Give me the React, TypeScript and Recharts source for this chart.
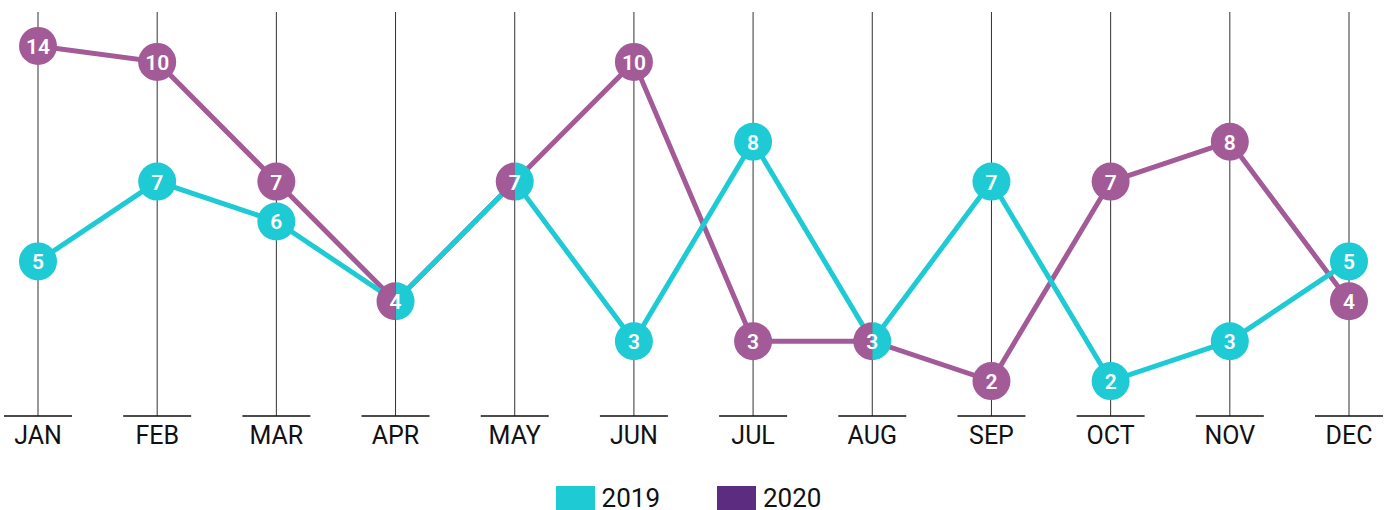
import { LineChart, Line, XAxis, YAxis, CartesianGrid } from 'recharts';

const months = ['JAN', 'FEB', 'MAR', 'APR', 'MAY', 'JUN', 'JUL', 'AUG', 'SEP', 'OCT', 'NOV', 'DEC'];
const values2019 = [5, 7, 6, 4, 7, 3, 8, 3, 7, 2, 3, 5];
const values2020 = [14, 10, 7, 4, 7, 10, 3, 3, 2, 7, 8, 4];
// the source chart squeezes anything above its axis top just over the 10 mark
const axisCap = 10.4;

const CYAN = '#1ecad4';
const PURPLE = '#a35b98';
const PURPLE_LEGEND = '#5b2c7f';

const data = months.map((m, i) => ({
  month: m,
  y2019: values2019[i],
  y2020: Math.min(values2020[i], axisCap),
  l2019: values2019[i],
  l2020: values2020[i],
}));

const R = 19;

const makeDot = (series: '2019' | '2020') => (props: any) => {
  const { cx, cy, payload, index } = props;
  if (cx == null || cy == null) return <g key={`d${series}-${index}`} />;
  const shared = payload.l2019 === payload.l2020;
  const color = series === '2019' ? CYAN : PURPLE;
  const label = series === '2019' ? payload.l2019 : payload.l2020;
  let shape;
  if (shared) {
    // split marker: purple on the left, cyan on the right
    shape =
      series === '2020' ? (
        <path d={`M${cx},${cy - R} A${R},${R} 0 0 0 ${cx},${cy + R} Z`} fill={PURPLE} />
      ) : (
        <path d={`M${cx},${cy - R} A${R},${R} 0 0 1 ${cx},${cy + R} Z`} fill={CYAN} />
      );
  } else {
    shape = <circle cx={cx} cy={cy} r={R} fill={color} />;
  }
  const showText = !shared || series === '2020';
  return (
    <g key={`d${series}-${index}`}>
      {shape}
      {showText && (
        <text
          x={cx}
          y={cy + 1}
          textAnchor="middle"
          dominantBaseline="central"
          fill="#fff"
          fontSize={21}
          fontWeight={600}
          fontFamily="Roboto, 'Open Sans', sans-serif"
        >
          {label}
        </text>
      )}
    </g>
  );
};

const MonthTick = (props: any) => {
  const { x, y, payload } = props;
  return (
    <g>
      <line x1={x - 34} x2={x + 34} y1={y} y2={y} stroke="#111" strokeWidth={1.5} />
      <text
        x={x}
        y={y + 28}
        textAnchor="middle"
        fill="#111"
        fontSize={25}
        fontFamily="Roboto, 'Open Sans', sans-serif"
      >
        {payload.value}
      </text>
    </g>
  );
};

export default function App() {
  return (
    <div style={{ position: 'absolute', left: 0, top: 0, width: 1391, height: 510 }}>
      <LineChart width={1391} height={510} data={data} margin={{ top: 12, right: 0, bottom: 0, left: 0 }}>
        <CartesianGrid horizontal={false} vertical syncWithTicks stroke="#333" strokeWidth={1} />
        <XAxis
          dataKey="month"
          scale="point"
          padding={{ left: 38, right: 42 }}
          height={94}
          axisLine={false}
          tickLine={false}
          tickSize={0}
          tickMargin={0}
          interval={0}
          tick={<MonthTick />}
        />
        <YAxis hide domain={[1.125, 11.25]} type="number" allowDataOverflow />
        <Line dataKey="y2020" stroke={PURPLE} strokeWidth={5} dot={false} isAnimationActive={false} />
        <Line dataKey="y2019" stroke={CYAN} strokeWidth={5} dot={false} isAnimationActive={false} />
        <Line dataKey="y2019" stroke="none" dot={makeDot('2019')} activeDot={false} isAnimationActive={false} legendType="none" />
        <Line dataKey="y2020" stroke="none" dot={makeDot('2020')} activeDot={false} isAnimationActive={false} legendType="none" />
      </LineChart>
      <div
        style={{
          position: 'absolute',
          top: 484,
          left: 0,
          width: 1377,
          display: 'flex',
          justifyContent: 'center',
          gap: 57,
          fontFamily: "Roboto, 'Open Sans', sans-serif",
          fontSize: 26,
          color: '#111',
          lineHeight: '28px',
        }}
      >
        <div style={{ display: 'flex', alignItems: 'center' }}>
          <span style={{ display: 'inline-block', width: 39, height: 24, background: CYAN, marginRight: 7 }} />
          2019
        </div>
        <div style={{ display: 'flex', alignItems: 'center' }}>
          <span style={{ display: 'inline-block', width: 39, height: 24, background: PURPLE_LEGEND, marginRight: 7 }} />
          2020
        </div>
      </div>
    </div>
  );
}
